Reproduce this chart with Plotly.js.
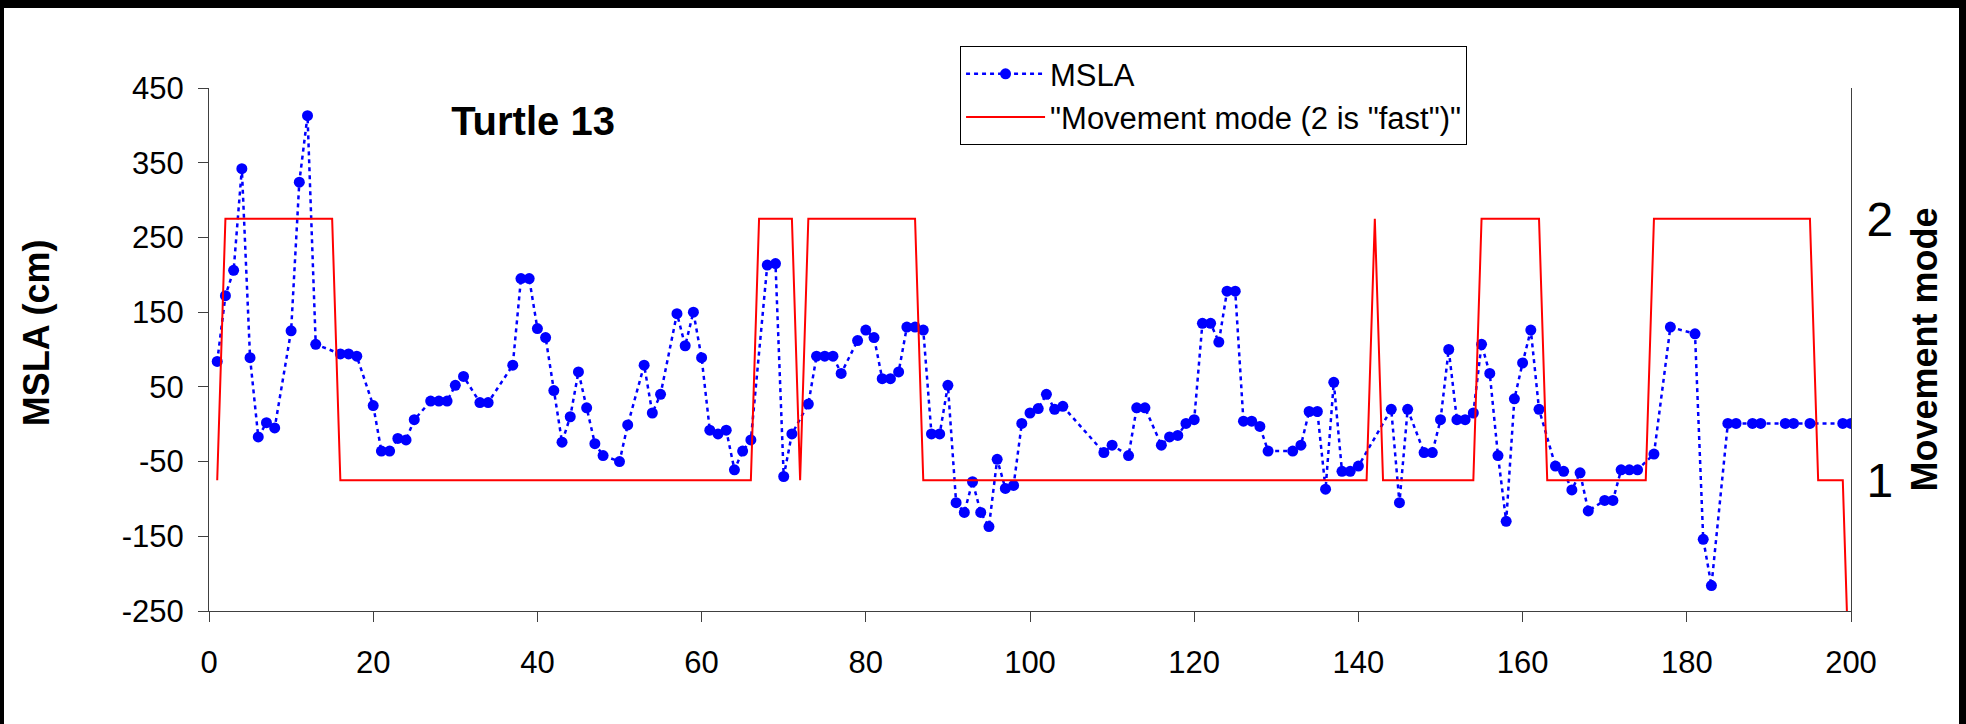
<!DOCTYPE html>
<html>
<head>
<meta charset="utf-8">
<script src="https://cdn.plot.ly/plotly-3.0.1.min.js"></script>
<style>
  html, body { margin: 0; padding: 0; background: #000; }
  #chart { position: absolute; left: 4px; top: 8px; width: 1955px; height: 716px; background: #fff; }
</style>
</head>
<body>
<div id="chart"></div>
<script>
const mslaDays = [1,2,3,4,5,6,7,8,10,11,12,13,16,17,18,20,21,22,23,24,25,27,28,29,30,31,33,34,
  37,38,39,40,41,42,43,44,45,46,47,48,50,51,53,54,55,57,58,59,60,61,62,63,64,65,66,68,69,70,71,
  73,74,75,76,77,79,80,81,82,83,84,85,86,87,88,89,90,91,92,93,94,95,96,97,98,99,100,101,102,103,104,
  109,110,112,113,114,116,117,118,119,120,121,122,123,124,125,126,127,128,129,132,133,134,135,136,137,138,139,140,
  144,145,146,148,149,150,151,152,153,154,155,156,157,158,159,160,161,162,164,165,166,167,168,170,171,172,173,174,
  176,178,181,182,183,185,186,188,189,192,193,195,199,200];
const mslaValues = [84,172,206,342,89,-17,2,-5,125,324,413,107,94,94,91,25,-36,-36,-19,-21,6,31,31,31,52,64,29,29,
  79,195,195,128,116,45,-24,10,70,22,-26,-42,-50,-1,79,15,40,148,105,150,89,-8,-13,-8,-61,-36,-21,213,215,-70,-13,
  27,91,91,91,68,112,126,116,61,61,70,130,130,126,-13,-13,52,-105,-118,-77,-118,-137,-47,-86,-82,1,15,21,40,20,24,
  -38,-28,-42,22,22,-28,-17,-15,1,6,135,135,110,178,178,4,4,-3,-36,-36,-28,17,17,-87,56,-63,-63,-56,
  20,-105,20,-38,-38,6,100,6,6,15,107,68,-42,-130,34,82,126,20,-56,-63,-88,-65,-116,-102,-102,-61,-61,-61,
  -40,130,121,-154,-216,1,1,1,1,1,1,1,1,1];

// Movement mode (1 = slow, 2 = fast): vertices of the step series
const modeDays   = [1,2,15,16,66,67,71,72,73,86,87,141,142,143,154,155,162,163,175,176,195,196,199,200];
const modeValues = [1,2,2,1,1,2,2,1,2,2,1,1,2,1,1,2,2,1,1,2,2,1,1,0];

// Axis ticks and labels
const xTicks = [0,20,40,60,80,100,120,140,160,180,200];
const yTicks = [-250,-150,-50,50,150,250,350,450];
const yTickLabels = ['-250','-150','-50','50','150','250','350','450'];
const y2Ticks = [1,2];
const y2TickLabels = ['1','2'];

const FONT = 'Liberation Sans, Arial, sans-serif';
const AXIS_COLOR = '#404040';

const traces = [
  {
    x: mslaDays, y: mslaValues, name: 'MSLA', type: 'scatter', mode: 'lines+markers',
    line: { color: '#0000FF', width: 2.5, dash: '4px,4px' },
    marker: { color: '#0000FF', size: 11, symbol: 'circle' },
    yaxis: 'y'
  },
  {
    x: modeDays, y: modeValues, name: '"Movement mode (2 is "fast")"', type: 'scatter', mode: 'lines',
    line: { color: '#FF0000', width: 2 },
    yaxis: 'y2'
  }
];

const layout = {
  width: 1955, height: 716,
  paper_bgcolor: '#ffffff', plot_bgcolor: '#ffffff',
  margin: { l: 205, r: 108, t: 80, b: 113, pad: 0 },
  font: { family: FONT, color: '#000' },
  showlegend: true,
  title: {
    text: '<b>Turtle 13</b>', font: { family: FONT, size: 40, color: '#000' },
    xref: 'container', yref: 'container', x: 0.2706, y: 0.842, xanchor: 'center', yanchor: 'middle'
  },
  legend: {
    x: 0.4574, y: 1.08, xanchor: 'left', yanchor: 'top',
    bgcolor: '#ffffff', bordercolor: '#000', borderwidth: 1,
    font: { family: FONT, size: 31, color: '#000' },
    traceorder: 'normal', itemwidth: 79
  },
  annotations: [{
    text: '<b>MSLA (cm)</b>', xref: 'paper', yref: 'paper', x: -0.1054, y: 0.533,
    xanchor: 'center', yanchor: 'middle', textangle: -90, showarrow: false,
    font: { family: FONT, size: 36, color: '#000' }
  }],
  xaxis: {
    range: [0, 200], tickvals: xTicks, ticks: 'outside', ticklen: 10, tickcolor: AXIS_COLOR, tickwidth: 1,
    showline: true, linecolor: AXIS_COLOR, linewidth: 1, showgrid: false, zeroline: false,
    tickfont: { family: FONT, size: 31, color: '#000' }, ticklabelstandoff: 14, tickangle: 0, automargin: false
  },
  yaxis: {
    range: [-250, 450], tickvals: yTicks, ticktext: yTickLabels, ticks: 'outside', ticklen: 10,
    tickcolor: AXIS_COLOR, tickwidth: 1,
    showline: true, linecolor: AXIS_COLOR, linewidth: 1, showgrid: false, zeroline: false,
    tickfont: { family: FONT, size: 31, color: '#000' }, ticklabelstandoff: 8, automargin: false
  },
  yaxis2: {
    overlaying: 'y', side: 'right', range: [0.5, 2.5], tickvals: y2Ticks, ticktext: y2TickLabels, ticks: '',
    showline: true, linecolor: AXIS_COLOR, linewidth: 1, showgrid: false, zeroline: false,
    tickfont: { family: FONT, size: 48, color: '#000' }, ticklabelstandoff: 5, automargin: false,
    title: { text: '<b>Movement mode</b>', font: { family: FONT, size: 36, color: '#000' }, standoff: 19 }
  }
};

Plotly.newPlot('chart', traces, layout, { displayModeBar: false, staticPlot: true });
</script>
</body>
</html>
